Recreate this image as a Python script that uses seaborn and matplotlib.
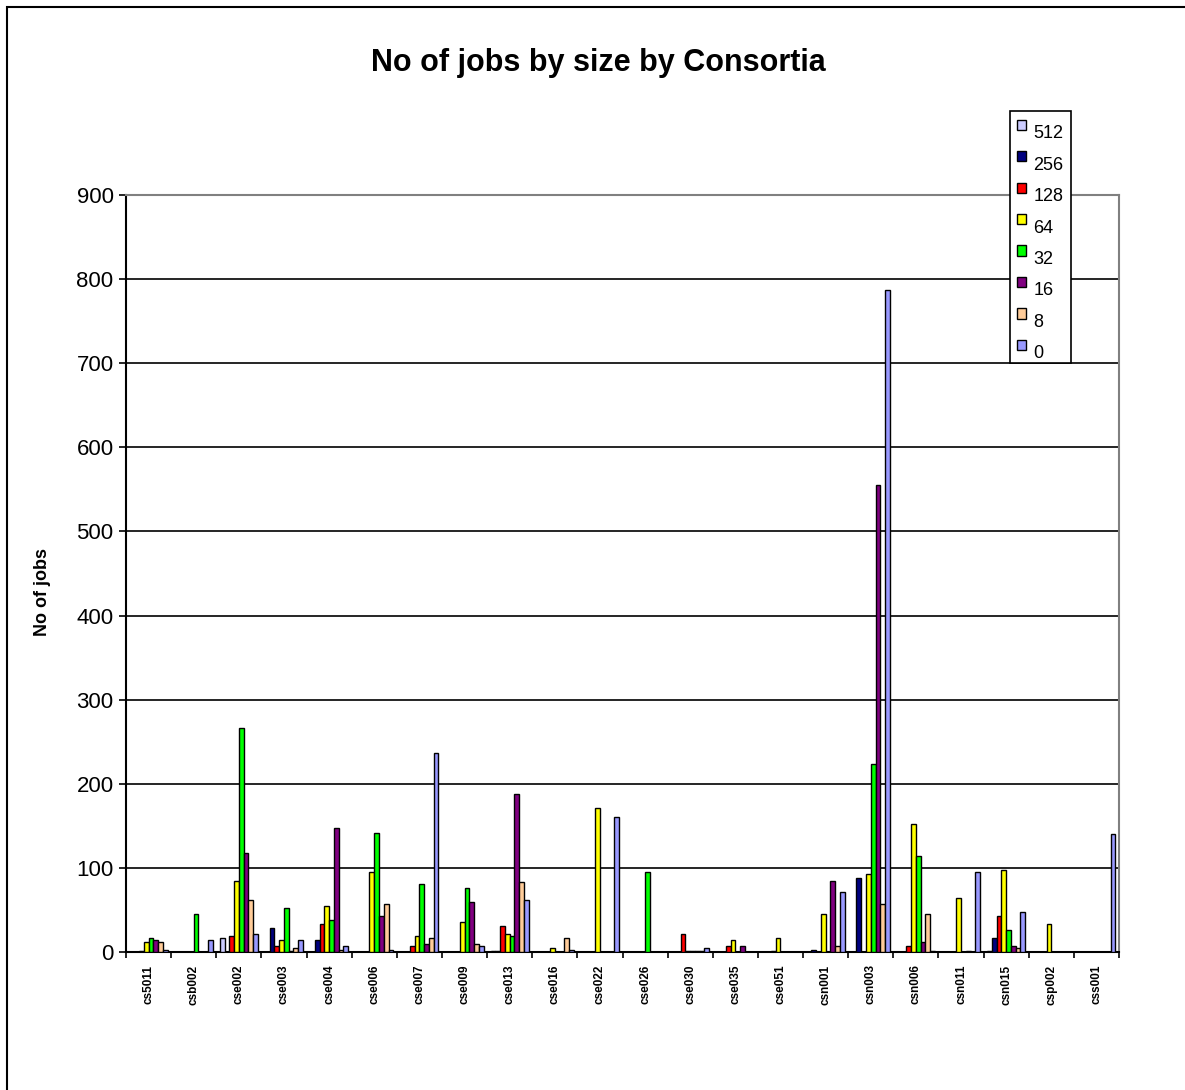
import matplotlib
matplotlib.use("Agg")
import matplotlib.pyplot as plt
from matplotlib.patches import Rectangle
import seaborn as sns
import pandas as pd

# Consortia on the x axis
consortia = ["cs5011", "csb002", "cse002", "cse003", "cse004", "cse006", "cse007",
             "cse009", "cse013", "cse016", "cse022", "cse026", "cse030", "cse035",
             "cse051", "csn001", "csn003", "csn006", "csn011", "csn015", "csp002",
             "css001"]

# Job sizes (series), in legend / bar order
sizes = ["512", "256", "128", "64", "32", "16", "8", "0"]

# Number of jobs per consortium, one list per job size
jobs_512 = [0, 0, 17, 0, 0, 0, 0, 0, 1, 0, 0, 0, 0, 0, 0, 0, 0, 0, 0, 1, 0, 0]
jobs_256 = [0, 0, 0, 29, 14, 0, 0, 0, 1, 0, 0, 0, 0, 0, 0, 2, 88, 0, 0, 17, 0, 0]
jobs_128 = [1, 0, 19, 7, 33, 0, 7, 0, 31, 0, 0, 0, 21, 7, 1, 0, 0, 7, 0, 43, 0, 0]
jobs_64 = [12, 0, 85, 14, 55, 95, 19, 36, 21, 5, 171, 0, 1, 14, 17, 45, 93, 152, 64, 98, 33, 0]
jobs_32 = [17, 45, 266, 52, 38, 142, 81, 76, 19, 0, 0, 95, 1, 0, 0, 0, 223, 114, 0, 26, 0, 0]
jobs_16 = [14, 0, 118, 1, 148, 43, 10, 60, 188, 0, 0, 0, 1, 7, 0, 85, 555, 12, 1, 7, 0, 0]
jobs_8 = [12, 0, 62, 5, 2, 57, 17, 10, 83, 17, 0, 0, 1, 0, 0, 7, 57, 45, 0, 5, 0, 0]
jobs_0 = [2, 14, 21, 14, 7, 2, 236, 7, 62, 2, 160, 0, 5, 0, 0, 71, 787, 1, 95, 48, 0, 140]

series = [jobs_512, jobs_256, jobs_128, jobs_64, jobs_32, jobs_16, jobs_8, jobs_0]
colors = ["#CCCCFF", "#000080", "#FF0000", "#FFFF00", "#00FF00", "#800080", "#FFCC99", "#9999FF"]

rows = []
for size, vals in zip(sizes, series):
    for cons, v in zip(consortia, vals):
        rows.append({"consortium": cons, "size": size, "jobs": v})
df = pd.DataFrame(rows)

sns.set_theme(style="white")
plt.rcParams["font.family"] = ["Liberation Sans", "DejaVu Sans"]
plt.rcParams["text.color"] = "black"
plt.rcParams["axes.labelcolor"] = "black"
plt.rcParams["xtick.color"] = "black"
plt.rcParams["ytick.color"] = "black"

W, H = 1185, 1090
fig = plt.figure(figsize=(W / 100, H / 100), dpi=100)
ax = fig.add_axes([126 / W, 1 - 952 / H, (1119 - 126) / W, (952 - 195) / H])

sns.barplot(data=df, x="consortium", y="jobs", hue="size", order=consortia,
            hue_order=sizes, palette=colors, width=8 / 9.5, gap=0,
            edgecolor="black", linewidth=1.0, errorbar=None, ax=ax,
            saturation=1, zorder=3)

handles, labels = ax.get_legend_handles_labels()
if ax.get_legend() is not None:
    ax.get_legend().remove()

ax.set_xlim(-0.5, len(consortia) - 0.5)
ax.set_ylim(0, 900)
ax.set_yticks(range(0, 901, 100))
ax.yaxis.grid(True, color="black", linewidth=1.2, zorder=0)
ax.set_axisbelow(True)

# x: labels centred, tick marks at category boundaries
ax.set_xticks(range(len(consortia)))
ax.set_xticklabels(consortia, rotation=90, fontsize=8.5, fontweight="bold")
ax.set_xticks([i - 0.5 for i in range(len(consortia) + 1)], minor=True)
ax.tick_params(axis="x", which="major", length=0, pad=9)
ax.tick_params(axis="x", which="minor", direction="out", length=4, width=1.2,
               color="black", bottom=True)
ax.tick_params(axis="y", direction="out", length=5, width=1.2, color="black",
               labelsize=16, pad=4, left=True)

ax.set_xlabel("")
ax.set_ylabel("No of jobs", fontsize=13, fontweight="bold")
ax.yaxis.set_label_coords(-0.076, (952 - 592) / (952 - 195))

for side in ("top", "right"):
    ax.spines[side].set_color("#808080")
    ax.spines[side].set_linewidth(1.5)
for side in ("left", "bottom"):
    ax.spines[side].set_color("black")
    ax.spines[side].set_linewidth(1.5)

fig.text(598 / W, 1 - 63 / H, "No of jobs by size by Consortia", ha="center",
         va="center", fontsize=22, fontweight="bold")

leg = fig.legend(handles, labels, loc="upper left",
                 bbox_to_anchor=(1010 / W, 1 - 111 / H),
                 bbox_transform=fig.transFigure, fontsize=13, frameon=True,
                 fancybox=False, shadow=False, framealpha=1, edgecolor="black",
                 handlelength=0.5, handleheight=0.5, handletextpad=0.4,
                 labelspacing=0.8, borderpad=0.4, borderaxespad=0)
leg.get_frame().set_linewidth(1.2)
# legend labels sit slightly below their swatches
for t in leg.get_texts():
    t.set_y(-7)

# outer chart border
fig.patches.append(Rectangle((7 / W, -0.02), 1.05, 1 - 7 / H + 0.02,
                             transform=fig.transFigure, fill=False,
                             edgecolor="black", linewidth=1.5))

fig.savefig("out.png", dpi=100)
